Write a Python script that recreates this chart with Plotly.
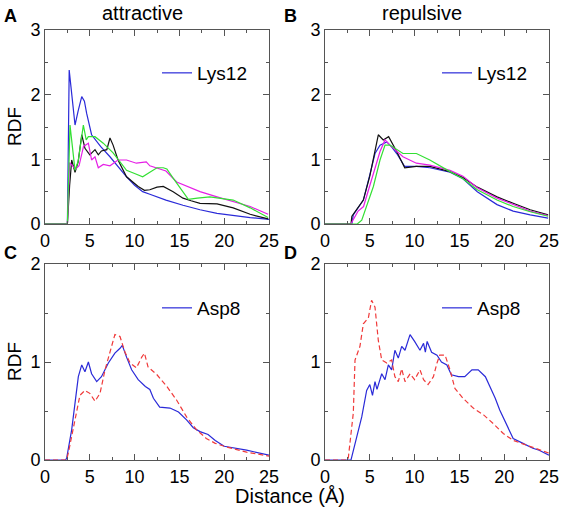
import plotly.graph_objects as go

# ---------------- data ----------------
# Panel A (attractive, Lys12)
A_blue_x = [0, 2.5, 2.7, 3.1, 3.35, 3.7, 4.1, 4.4, 4.65, 5.2, 5.6, 6.2, 7.25, 8.2, 9.1, 10.0, 10.9, 11.7, 13.5, 15.4, 17.3, 19.2, 21.0, 22.9, 25]
A_blue_y = [0, 0, 2.38, 1.9, 1.53, 1.75, 1.97, 1.9, 1.71, 1.38, 1.3, 1.2, 1.04, 0.88, 0.73, 0.6, 0.5, 0.46, 0.37, 0.29, 0.22, 0.165, 0.13, 0.1, 0.07]
A_black_x = [0, 2.5, 2.75, 2.98, 3.35, 3.7, 4.1, 4.46, 5.0, 5.58, 5.95, 6.3, 6.9, 7.25, 7.6, 8.15, 9.1, 10.4, 11.1, 11.7, 12.5, 13.2, 14.3, 15.4, 16.3, 17.3, 19.2, 21.0, 22.9, 24.9]
A_black_y = [0, 0, 0.6, 0.99, 0.8, 0.96, 1.38, 1.17, 1.07, 1.15, 1.07, 1.13, 1.15, 1.33, 1.22, 0.99, 0.73, 0.58, 0.52, 0.53, 0.57, 0.58, 0.5, 0.4, 0.36, 0.32, 0.31, 0.25, 0.15, 0.08]
A_green_x = [0, 2.5, 2.79, 3.1, 3.35, 3.7, 4.0, 4.28, 4.6, 4.84, 5.58, 6.5, 7.6, 9.1, 10.0, 10.9, 11.7, 12.5, 13.2, 13.6, 14.3, 15.1, 16.0, 17.0, 18.4, 21.0, 22.9, 24.9]
A_green_y = [0, 0, 1.53, 1.1, 0.83, 0.97, 1.3, 1.53, 1.3, 1.35, 1.35, 1.25, 1.1, 0.83, 0.78, 0.73, 0.8, 0.87, 0.87, 0.85, 0.71, 0.55, 0.38, 0.4, 0.42, 0.37, 0.25, 0.1]
A_magenta_x = [0, 2.5, 2.75, 3.1, 3.4, 3.8, 4.3, 4.84, 5.2, 5.58, 5.95, 6.5, 7.25, 8.15, 9.1, 10.2, 11.3, 11.7, 12.8, 13.5, 14.7, 16.0, 17.3, 19.2, 21.0, 22.9, 24.9]
A_magenta_y = [0, 0, 0.95, 0.9, 0.85, 0.9, 1.2, 1.25, 0.99, 1.04, 0.87, 0.92, 0.9, 0.99, 0.99, 0.94, 0.96, 0.9, 0.85, 0.82, 0.65, 0.57, 0.5, 0.42, 0.35, 0.27, 0.15]

# Panel B (repulsive, Lys12)
B_blue_x = [0, 3.0, 3.16, 3.7, 4.28, 5.0, 5.58, 6.14, 6.9, 7.5, 8.0, 8.9, 10.2, 11.7, 13.95, 15.4, 17.0, 19.2, 21.0, 22.9, 24.9]
B_blue_y = [0, 0, 0.14, 0.25, 0.37, 0.76, 1.09, 1.22, 1.27, 1.18, 1.09, 0.89, 0.89, 0.87, 0.8, 0.7, 0.5, 0.3, 0.2, 0.14, 0.09]
B_black_x = [0, 2.9, 3.0, 3.7, 4.28, 5.0, 5.58, 5.95, 6.5, 7.1, 8.0, 8.9, 10.2, 11.7, 13.95, 15.4, 17.0, 19.2, 21.0, 22.9, 24.9]
B_black_y = [0, 0, 0.12, 0.25, 0.37, 0.74, 1.12, 1.38, 1.3, 1.35, 1.12, 0.87, 0.89, 0.89, 0.81, 0.72, 0.57, 0.42, 0.32, 0.22, 0.14]
B_green_x = [0, 3.6, 4.1, 4.7, 5.4, 6.14, 6.7, 7.25, 8.0, 8.7, 10.2, 11.7, 13.95, 15.4, 17.0, 19.2, 21.0, 22.9, 24.9]
B_green_y = [0, 0, 0.06, 0.3, 0.58, 0.99, 1.22, 1.22, 1.15, 1.09, 1.09, 0.99, 0.81, 0.7, 0.53, 0.37, 0.27, 0.19, 0.12]
B_magenta_x = [0, 2.9, 3.2, 3.7, 4.3, 5.4, 6.14, 6.7, 7.25, 8.7, 10.2, 11.7, 13.95, 15.4, 17.0, 19.2, 21.0, 22.9, 24.9]
B_magenta_y = [0, 0, 0.08, 0.2, 0.27, 0.79, 1.12, 1.3, 1.22, 1.04, 0.94, 0.91, 0.83, 0.74, 0.56, 0.4, 0.3, 0.2, 0.13]

# Panel C (attractive, Asp8)
C_blue_x = [0, 2.3, 2.42, 2.98, 3.35, 3.72, 4.1, 4.46, 4.84, 5.2, 5.77, 6.3, 7.07, 7.8, 8.37, 8.63, 9.1, 9.67, 10.4, 11.2, 11.7, 12.1, 12.8, 13.95, 14.9, 15.8, 16.55, 17.3, 18.2, 19.0, 20.0, 22.5, 25]
C_blue_y = [0, 0, 0.02, 0.31, 0.58, 0.85, 0.97, 0.9, 1.0, 0.88, 0.8, 0.85, 0.99, 1.09, 1.14, 1.17, 1.05, 0.92, 0.82, 0.75, 0.72, 0.63, 0.54, 0.53, 0.49, 0.41, 0.33, 0.29, 0.26, 0.2, 0.14, 0.1, 0.05]
C_red_x = [0, 2.4, 2.6, 3.35, 3.9, 4.46, 5.0, 5.58, 6.14, 6.7, 7.25, 7.8, 8.37, 8.93, 9.49, 10.2, 10.8, 11.1, 11.5, 12.5, 13.6, 14.7, 15.8, 16.9, 18.0, 19.0, 20.0, 22.5, 25]
C_red_y = [0, 0, 0.07, 0.41, 0.66, 0.71, 0.68, 0.6, 0.68, 0.92, 1.09, 1.28, 1.26, 1.1, 0.99, 0.94, 1.05, 1.09, 0.95, 0.87, 0.75, 0.61, 0.44, 0.31, 0.22, 0.17, 0.14, 0.08, 0.04]

# Panel D (repulsive, Asp8)
D_blue_x = [0, 2.9, 2.98, 3.53, 4.1, 4.65, 5.0, 5.3, 5.58, 5.8, 6.33, 6.7, 7.07, 7.44, 7.8, 8.18, 8.56, 8.93, 9.49, 10.0, 10.6, 11.0, 11.2, 11.4, 11.9, 12.5, 13.0, 13.6, 14.1, 14.9, 15.6, 16.4, 17.1, 17.9, 18.6, 19.0, 19.5, 20.3, 21.0, 22.1, 23.2, 23.9, 25]
D_blue_y = [0, 0, 0.03, 0.24, 0.44, 0.71, 0.77, 0.66, 0.8, 0.72, 0.88, 0.82, 0.97, 0.92, 1.12, 1.04, 1.16, 1.12, 1.28, 1.21, 1.12, 1.19, 1.1, 1.21, 1.1, 1.07, 1.0, 0.97, 0.87, 0.85, 0.85, 0.92, 0.92, 0.85, 0.71, 0.63, 0.51, 0.36, 0.22, 0.17, 0.12, 0.1, 0.05]
D_red_x = [0, 2.5, 2.6, 3.16, 3.35, 3.9, 4.28, 4.84, 5.2, 5.58, 5.95, 6.33, 6.9, 7.44, 7.8, 8.18, 8.56, 8.93, 9.5, 10.0, 10.6, 11.0, 11.5, 12.1, 12.5, 12.8, 13.4, 13.95, 14.5, 15.4, 16.55, 17.7, 18.8, 19.9, 21.0, 22.5, 23.6, 25]
D_red_y = [0, 0, 0.02, 0.48, 1.02, 1.16, 1.39, 1.45, 1.63, 1.56, 1.22, 1.02, 0.99, 1.02, 0.85, 0.8, 0.93, 0.8, 0.88, 0.82, 0.92, 0.82, 0.77, 0.85, 0.99, 1.07, 1.07, 0.92, 0.73, 0.63, 0.53, 0.46, 0.37, 0.27, 0.2, 0.15, 0.12, 0.07]

x_ticks = [0, 5, 10, 15, 20, 25]
y_ticks_top = [0, 1, 2, 3]
y_ticks_bottom = [0, 1, 2]
panel_titles = ["attractive", "repulsive"]
panel_letters = ["A", "B", "C", "D"]
legend_top = "Lys12"
legend_bottom = "Asp8"

# ---------------- figure ----------------
W, H = 561, 516
BLUE = "#2a2ad8"
BLACK = "#111111"
GREEN = "#33e033"
MAGENTA = "#e61ee6"
RED = "#f03a3a"
FONT = "Liberation Sans, Arial, sans-serif"

fig = go.Figure()

def add(x, y, color, axis_n, name=None, legend=None, dash="solid", width=1.2):
    xa = "x" if axis_n == 1 else f"x{axis_n}"
    ya = "y" if axis_n == 1 else f"y{axis_n}"
    fig.add_trace(go.Scatter(
        x=x, y=y, mode="lines", xaxis=xa, yaxis=ya,
        line=dict(color=color, width=width, dash=dash),
        name=name if name else "", showlegend=name is not None,
        legend=legend if legend else "legend", hoverinfo="skip"))

# A
add(A_blue_x, A_blue_y, BLUE, 1, legend_top, "legend")
add(A_black_x, A_black_y, BLACK, 1)
add(A_magenta_x, A_magenta_y, MAGENTA, 1)
add(A_green_x, A_green_y, GREEN, 1)
# B
add(B_blue_x, B_blue_y, BLUE, 2, legend_top, "legend2")
add(B_black_x, B_black_y, BLACK, 2)
add(B_magenta_x, B_magenta_y, MAGENTA, 2)
add(B_green_x, B_green_y, GREEN, 2)
# C
add(C_blue_x, C_blue_y, BLUE, 3, legend_bottom, "legend3")
add(C_red_x, C_red_y, RED, 3, dash="5px,3px")
# D
add(D_blue_x, D_blue_y, BLUE, 4, legend_bottom, "legend4")
add(D_red_x, D_red_y, RED, 4, dash="5px,3px")

def px_x(p):
    return p / W

def px_y(p):
    return 1 - p / H

xdom_L = [px_x(45), px_x(269)]
xdom_R = [px_x(325), px_x(549)]
ydom_T = [px_y(224), px_y(30)]
ydom_B = [px_y(460), px_y(264)]

AXCOL = "#555555"
TICKFONT = dict(size=18, color="black", family=FONT)

def xaxis(dom, anchor):
    return dict(domain=dom, anchor=anchor, range=[0, 25], tickvals=x_ticks,
                ticks="inside", ticklen=6, tickcolor=AXCOL, tickwidth=1,
                minor=dict(dtick=2.5, tick0=0, ticks="inside", ticklen=3, tickcolor=AXCOL),
                showline=True, linecolor=AXCOL, linewidth=1, mirror="ticks",
                showgrid=False, zeroline=False, automargin=False,
                tickfont=TICKFONT)

def yaxis(dom, anchor, top, ticks):
    return dict(domain=dom, anchor=anchor, range=[0, top], tickvals=ticks,
                ticks="inside", ticklen=6, tickcolor=AXCOL, tickwidth=1,
                minor=dict(dtick=0.5, tick0=0, ticks="inside", ticklen=3, tickcolor=AXCOL),
                showline=True, linecolor=AXCOL, linewidth=1, mirror="ticks",
                showgrid=False, zeroline=False, automargin=False,
                tickfont=TICKFONT)

def leg(xp, yp):
    return dict(x=px_x(xp), y=px_y(yp), xanchor="left", yanchor="middle",
                bgcolor="rgba(0,0,0,0)", borderwidth=0,
                font=dict(size=19, color="black", family=FONT))

annotations = []
def ann(text, xp, yp, size=17, bold=False, angle=0):
    annotations.append(dict(text=f"<b>{text}</b>" if bold else text,
                            x=px_x(xp), y=px_y(yp), xref="paper", yref="paper",
                            showarrow=False, xanchor="center", yanchor="middle",
                            textangle=angle,
                            font=dict(size=size, color="black", family=FONT)))

ann(panel_titles[0], 142, 13, 20)
ann(panel_titles[1], 422, 13, 20)
ann(panel_letters[0], 10, 16, 18, True)
ann(panel_letters[1], 290, 16, 18, True)
ann(panel_letters[2], 10, 253, 18, True)
ann(panel_letters[3], 290, 253, 18, True)
ann("RDF", 14, 127, 19, angle=-90)
ann("RDF", 14, 362, 19, angle=-90)
ann("Distance (Å)", 290, 496, 20)

fig.update_layout(
    width=W, height=H,
    margin=dict(l=0, r=0, t=0, b=0, autoexpand=False),
    paper_bgcolor="white", plot_bgcolor="white",
    font=dict(family=FONT, color="black"),
    xaxis=xaxis(xdom_L, "y"), yaxis=yaxis(ydom_T, "x", 3, y_ticks_top),
    xaxis2=xaxis(xdom_R, "y2"), yaxis2=yaxis(ydom_T, "x2", 3, y_ticks_top),
    xaxis3=xaxis(xdom_L, "y3"), yaxis3=yaxis(ydom_B, "x3", 2, y_ticks_bottom),
    xaxis4=xaxis(xdom_R, "y4"), yaxis4=yaxis(ydom_B, "x4", 2, y_ticks_bottom),
    legend=leg(157, 73), legend2=leg(437, 73),
    legend3=leg(157, 308), legend4=leg(437, 308),
    annotations=annotations,
)

fig.write_html("out.html", config={"displayModeBar": False},
               post_script="document.body.style.margin='0px';document.body.style.overflow='hidden';")
